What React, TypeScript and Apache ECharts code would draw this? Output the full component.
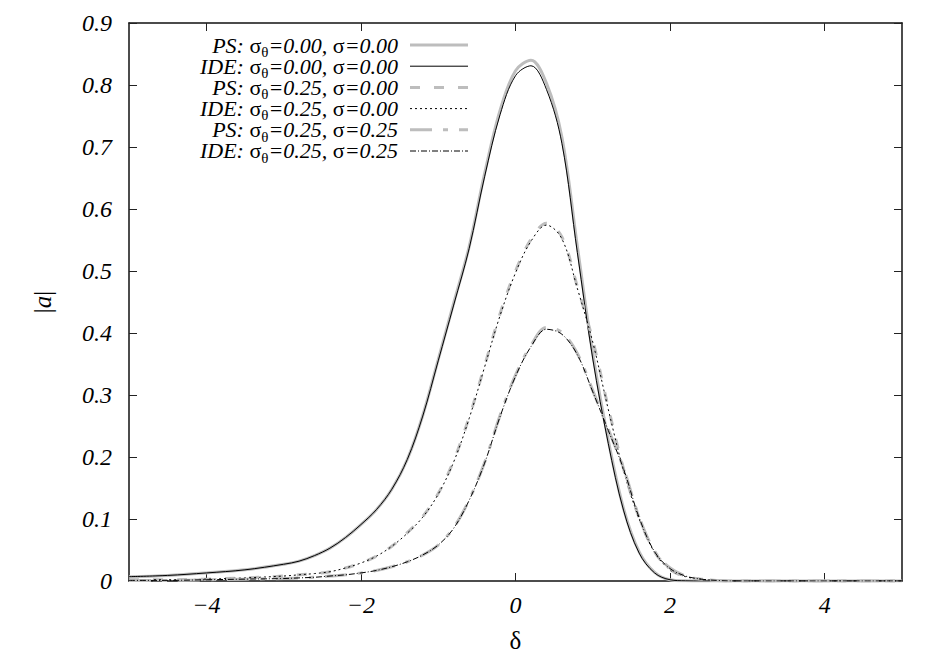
import React, { useEffect, useRef } from "react";
import * as echarts from "echarts";

const xs = [-5, -4.5, -4, -3.5, -3, -2.8, -2.6, -2.4, -2.2, -2.0, -1.8, -1.6, -1.4, -1.2, -1.0, -0.8, -0.6, -0.4, -0.2, 0, 0.2, 0.4, 0.6, 0.8, 1.0, 1.2, 1.4, 1.6, 1.8, 2.0, 2.2, 2.4, 2.6, 2.8, 3, 3.5, 4, 4.5, 5];

// PS: σθ=0.00, σ=0.00
const psA = [0.007, 0.009, 0.013, 0.018, 0.027, 0.032, 0.041, 0.053, 0.07, 0.091, 0.115, 0.148, 0.196, 0.267, 0.357, 0.448, 0.539, 0.657, 0.759, 0.823, 0.84, 0.803, 0.716, 0.54, 0.366, 0.227, 0.116, 0.047, 0.014, 0.002, 0.0003, 0, 0, 0, 0, 0, 0, 0, 0];
// IDE: σθ=0.00, σ=0.00
const ideA = [0.007, 0.009, 0.013, 0.018, 0.027, 0.032, 0.041, 0.053, 0.07, 0.091, 0.115, 0.148, 0.196, 0.266, 0.355, 0.445, 0.536, 0.652, 0.752, 0.815, 0.831, 0.793, 0.706, 0.53, 0.358, 0.222, 0.113, 0.045, 0.013, 0.002, 0.0003, 0, 0, 0, 0, 0, 0, 0, 0];
// PS: σθ=0.25, σ=0.00
const psB = [0.002, 0.002, 0.003, 0.005, 0.008, 0.01, 0.012, 0.015, 0.021, 0.029, 0.04, 0.056, 0.078, 0.104, 0.141, 0.194, 0.264, 0.347, 0.431, 0.5, 0.551, 0.577, 0.555, 0.475, 0.388, 0.28, 0.18, 0.102, 0.047, 0.019, 0.007, 0.003, 0.001, 0, 0, 0, 0, 0, 0];
// IDE: σθ=0.25, σ=0.00
const ideB = [0.002, 0.002, 0.003, 0.005, 0.008, 0.01, 0.012, 0.015, 0.021, 0.029, 0.04, 0.056, 0.077, 0.103, 0.14, 0.192, 0.262, 0.345, 0.428, 0.497, 0.548, 0.574, 0.552, 0.472, 0.385, 0.277, 0.177, 0.1, 0.046, 0.018, 0.007, 0.003, 0.001, 0, 0, 0, 0, 0, 0];
// PS: σθ=0.25, σ=0.25
const psC = [0.001, 0.001, 0.002, 0.003, 0.004, 0.005, 0.006, 0.008, 0.01, 0.013, 0.017, 0.023, 0.031, 0.042, 0.058, 0.086, 0.131, 0.191, 0.267, 0.332, 0.38, 0.409, 0.401, 0.367, 0.307, 0.245, 0.181, 0.103, 0.048, 0.021, 0.008, 0.003, 0.001, 0, 0, 0, 0, 0, 0];
// IDE: σθ=0.25, σ=0.25
const ideC = [0.001, 0.001, 0.002, 0.003, 0.004, 0.005, 0.006, 0.008, 0.01, 0.013, 0.017, 0.023, 0.031, 0.042, 0.058, 0.085, 0.13, 0.19, 0.265, 0.33, 0.378, 0.406, 0.398, 0.365, 0.305, 0.243, 0.18, 0.102, 0.047, 0.02, 0.008, 0.003, 0.001, 0, 0, 0, 0, 0, 0];

const xTicks = [-4, -2, 0, 2, 4];
const legendLabels = [
  { method: "PS", st: "0.00", s: "0.00" },
  { method: "IDE", st: "0.00", s: "0.00" },
  { method: "PS", st: "0.25", s: "0.00" },
  { method: "IDE", st: "0.25", s: "0.00" },
  { method: "PS", st: "0.25", s: "0.25" },
  { method: "IDE", st: "0.25", s: "0.25" },
];

const SERIF = "Liberation Serif";
const GRAY = "#bdbdbd";

const styles = [
  { color: GRAY, width: 3, dash: null as number[] | null },
  { color: "#000", width: 1, dash: null },
  { color: GRAY, width: 3, dash: [10, 14] },
  { color: "#000", width: 1, dash: [2, 3] },
  { color: GRAY, width: 3, dash: [22, 11, 5, 11] },
  { color: "#000", width: 1, dash: [6, 2, 1, 2] },
];

const seriesData = [psA, ideA, psB, ideB, psC, ideC];

export default function App() {
  const ref = useRef<HTMLDivElement>(null);
  useEffect(() => {
    if (!ref.current) return;
    const chart = echarts.init(ref.current, null, { renderer: "svg" });
    const fmtX = (v: number) => String(v).replace("-", "\u2212");
    const fmtY = (v: number) => (v === 0 ? "0" : v.toFixed(1));

    const series = seriesData.map((ys, k) => ({
      type: "line",
      name: `${legendLabels[k].method}-${k}`,
      data: xs.map((x, i) => [x, ys[i]]),
      smooth: 0.35,
      showSymbol: false,
      symbol: "none",
      lineStyle: {
        color: styles[k].color,
        width: styles[k].width,
        type: styles[k].dash ? styles[k].dash : "solid",
      },
      z: 2 + k,
    }));

    const rowY0 = 45;
    const rowDy = 21.2;
    const legendGraphics: any[] = [];
    const legendText = legendLabels
      .map((l) => `{i|${l.method}:} {s|σ}{b|θ}{i|=${l.st}, }{s|σ}{i|=${l.s}}`)
      .join("\n");
    legendGraphics.push({
      type: "text",
      x: 398,
      y: rowY0 - rowDy / 2,
      z: 100,
      style: {
        text: legendText,
        align: "right",
        verticalAlign: "top",
        fontFamily: SERIF,
        fontSize: 22,
        lineHeight: rowDy,
        rich: {
          i: { fontFamily: SERIF, fontStyle: "italic", fontSize: 22, lineHeight: rowDy, fill: "#000" },
          s: { fontFamily: SERIF, fontSize: 22, lineHeight: rowDy, fill: "#000" },
          b: { fontFamily: SERIF, fontSize: 15, lineHeight: 6, verticalAlign: "top", padding: [10, 0, 0, 0], fill: "#000" },
        },
      },
    });
    legendLabels.forEach((l, k) => {
      const y = rowY0 + rowDy * k;
      legendGraphics.push({
        type: "line",
        z: 100,
        shape: { x1: 410, y1: y, x2: 468, y2: y },
        style: {
          stroke: styles[k].color,
          lineWidth: styles[k].width,
          lineDash: styles[k].dash || undefined,
        },
      });
    });

    const axisLineStyle = { color: "#111", width: 1.5 };
    const tickStyle = { color: "#222", width: 1 };

    chart.setOption({
      animation: false,
      backgroundColor: "#fff",
      textStyle: { fontFamily: SERIF },
      grid: { left: 129, right: 48, top: 23, bottom: 84, containLabel: false },
      xAxis: [
        {
          type: "value",
          min: -5,
          max: 5,
          position: "bottom",
          axisLine: { show: true, onZero: false, lineStyle: axisLineStyle },
          axisTick: { show: true, inside: true, length: 8, customValues: xTicks, lineStyle: tickStyle },
          axisLabel: {
            customValues: xTicks,
            formatter: fmtX,
            fontFamily: SERIF,
            fontStyle: "italic",
            fontSize: 24,
            color: "#000",
            margin: 12,
          },
          splitLine: { show: false },
          name: "δ",
          nameLocation: "middle",
          nameGap: 47,
          nameTextStyle: { fontFamily: SERIF, fontSize: 25, color: "#000" },
        },
        {
          type: "value",
          min: -5,
          max: 5,
          position: "top",
          axisLine: { show: true, onZero: false, lineStyle: axisLineStyle },
          axisTick: { show: true, inside: true, length: 8, customValues: xTicks, lineStyle: tickStyle },
          axisLabel: { show: false },
          splitLine: { show: false },
        },
      ],
      yAxis: [
        {
          type: "value",
          min: 0,
          max: 0.9,
          interval: 0.1,
          position: "left",
          axisLine: { show: true, onZero: false, lineStyle: axisLineStyle },
          axisTick: { show: true, inside: true, length: 8, lineStyle: tickStyle },
          axisLabel: {
            formatter: fmtY,
            fontFamily: SERIF,
            fontStyle: "italic",
            fontSize: 24,
            color: "#000",
            margin: 17,
          },
          splitLine: { show: false },
          name: "|{a|a}|",
          nameLocation: "middle",
          nameGap: 74,
          nameRotate: 90,
          nameTextStyle: {
            fontFamily: SERIF,
            fontSize: 25,
            color: "#000",
            rich: { a: { fontFamily: SERIF, fontStyle: "italic", fontSize: 25, color: "#000" } },
          },
        },
        {
          type: "value",
          min: 0,
          max: 0.9,
          interval: 0.1,
          position: "right",
          axisLine: { show: true, onZero: false, lineStyle: axisLineStyle },
          axisTick: { show: true, inside: true, length: 8, lineStyle: tickStyle },
          axisLabel: { show: false },
          splitLine: { show: false },
        },
      ],
      series,
      graphic: legendGraphics,
    });
    return () => chart.dispose();
  }, []);
  return <div ref={ref} style={{ width: 950, height: 665, position: "absolute", left: 0, top: 0 }} />;
}
